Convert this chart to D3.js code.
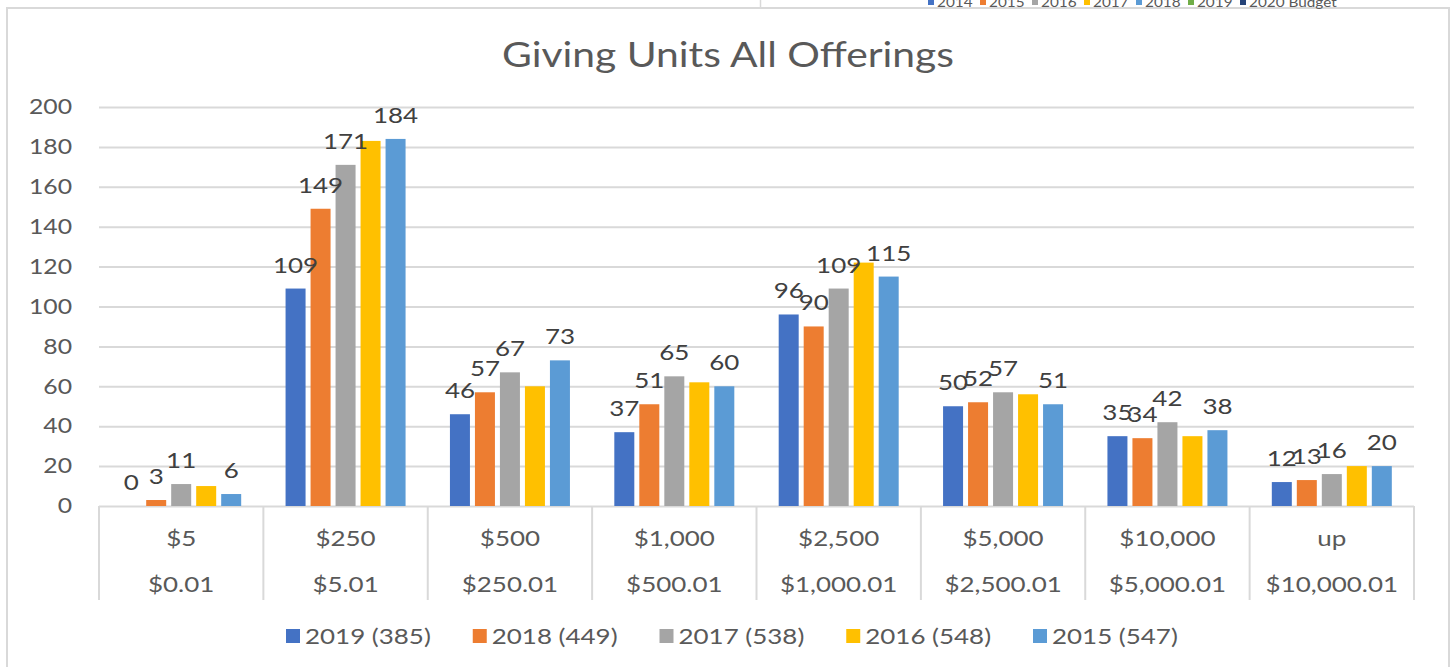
<!DOCTYPE html>
<html>
<head>
<meta charset="utf-8">
<script src="https://cdn.jsdelivr.net/npm/d3@7"></script>
<style>
  html, body { margin: 0; padding: 0; background: #fff; }
  svg { display: block; font-family: Lato, "Open Sans", sans-serif; }
</style>
</head>
<body>
<svg id="chart" width="1455" height="667"></svg>
<script>
// ---- data ----
const upperLabels = ["$5", "$250", "$500", "$1,000", "$2,500", "$5,000", "$10,000", "up"];
const lowerLabels = ["$0.01", "$5.01", "$250.01", "$500.01", "$1,000.01", "$2,500.01", "$5,000.01", "$10,000.01"];
const seriesNames = ["2019 (385)", "2018 (449)", "2017 (538)", "2016 (548)", "2015 (547)"];
const seriesColors = ["#4472C4", "#ED7D31", "#A5A5A5", "#FFC000", "#5B9BD5"];
const values2019 = [0, 109, 46, 37, 96, 50, 35, 12];
const values2018 = [3, 149, 57, 51, 90, 52, 34, 13];
const values2017 = [11, 171, 67, 65, 109, 57, 42, 16];
const values2016 = [10, 183, 60, 62, 122, 56, 35, 20];
const values2015 = [6, 184, 73, 60, 115, 51, 38, 20];
const seriesValues = [values2019, values2018, values2017, values2016, values2015];
const seriesShowLabels = [true, true, true, false, true];
const yTicks = [0, 20, 40, 60, 80, 100, 120, 140, 160, 180, 200];
const title = "Giving Units All Offerings";
// fragment of a neighbouring chart's legend, cut off at the top of the picture
const topLegendNames = ["2014", "2015", "2016", "2017", "2018", "2019", "2020 Budget"];
const topLegendColors = ["#4472C4", "#ED7D31", "#A5A5A5", "#FFC000", "#5B9BD5", "#70AD47", "#264478"];

// ---- layout ----
const SX = 1.18;           // horizontal stretch of the original picture's text
const textColor = "#595959";
const gridColor = "#d9d9d9";
const plot = { left: 99, right: 1414, top: 107, bottom: 506 };
const axisBottomEnd = 600;

const svg = d3.select("#chart");

function stretch(sel, sx = SX) {
  sel.each(function () {
    const a = window.getComputedStyle(this).textAnchor;
    const origin = a === "end" ? "right center" : a === "middle" ? "center center" : "left center";
    d3.select(this)
      .style("transform-box", "fill-box")
      .style("transform-origin", origin)
      .style("transform", `scaleX(${sx})`);
  });
}

// outer frame
svg.append("line").attr("x1", 760.5).attr("x2", 760.5).attr("y1", 0).attr("y2", 8)
  .attr("stroke", gridColor).attr("stroke-width", 1.5);
svg.append("path")
  .attr("d", "M7,667 L7,8 L1449,8 L1449,667")
  .attr("fill", "none").attr("stroke", gridColor).attr("stroke-width", 2);

// top legend fragment
const topX = d3.scalePoint().domain(topLegendNames).range([928, 1240]);
const tl = svg.append("g").selectAll("g").data(topLegendNames).join("g");
tl.append("rect").attr("x", d => topX(d)).attr("y", -2).attr("width", 6).attr("height", 7)
  .attr("fill", (d, i) => topLegendColors[i]);
tl.append("text").attr("x", d => topX(d) + 9).attr("y", 7)
  .attr("font-size", 13).attr("fill", textColor).text(d => d).call(stretch);

// title
svg.append("text").attr("x", 728).attr("y", 67).attr("text-anchor", "middle")
  .attr("font-size", 34).attr("fill", textColor).text(title).call(stretch, 1.2);

// scales
const x0 = d3.scaleBand().domain(d3.range(upperLabels.length)).range([plot.left, plot.right]);
const x1 = d3.scaleBand().domain(d3.range(seriesNames.length)).range([-62.5, 62.5])
  .paddingInner(0.2).paddingOuter(0.1);
const y = d3.scaleLinear().domain([0, 200]).range([plot.bottom, plot.top]);

// y axis with gridlines
const yAxis = svg.append("g").attr("transform", `translate(${plot.left},0)`)
  .call(d3.axisLeft(y).tickValues(yTicks).tickSize(-(plot.right - plot.left)).tickPadding(27));
yAxis.select(".domain").remove();
yAxis.selectAll(".tick line").attr("stroke", gridColor).attr("stroke-width", 2);
yAxis.selectAll(".tick text").attr("font-size", 21).attr("fill", textColor)
  .attr("font-family", "Lato, 'Open Sans', sans-serif").call(stretch);

// category separators
const bounds = x0.domain().map(i => x0(i)).concat([plot.right]);
svg.append("g").selectAll("line").data(bounds).join("line")
  .attr("x1", d => d).attr("x2", d => d)
  .attr("y1", plot.bottom).attr("y2", axisBottomEnd)
  .attr("stroke", gridColor).attr("stroke-width", 2);

// two-level category axis
function catAxis(labels, pad) {
  const g = svg.append("g").attr("transform", `translate(0,${plot.bottom})`)
    .call(d3.axisBottom(x0).tickSize(0).tickPadding(pad).tickFormat(i => labels[i]));
  g.select(".domain").remove();
  g.selectAll(".tick text").attr("font-size", 22).attr("fill", textColor)
    .attr("font-family", "Lato, 'Open Sans', sans-serif").call(stretch);
}
catAxis(upperLabels, 24);
catAxis(lowerLabels, 70);

// bars
const groups = svg.append("g").selectAll("g").data(seriesNames).join("g")
  .attr("fill", (d, s) => seriesColors[s]);
groups.selectAll("rect").data((d, s) => seriesValues[s].map((v, i) => ({ v, i, s })))
  .join("rect")
  .attr("x", d => x0(d.i) + x0.bandwidth() / 2 + x1(d.s))
  .attr("width", x1.bandwidth())
  .attr("y", d => y(d.v))
  .attr("height", d => y(0) - y(d.v));

// data labels
const lbl = svg.append("g");
seriesNames.forEach((name, s) => {
  if (!seriesShowLabels[s]) return;
  lbl.append("g").selectAll("text").data(seriesValues[s].map((v, i) => ({ v, i })))
    .join("text")
    .attr("x", d => x0(d.i) + x0.bandwidth() / 2 + x1(s) + x1.bandwidth() / 2)
    .attr("y", d => y(d.v) - 16)
    .attr("text-anchor", "middle")
    .attr("font-size", 22).attr("fill", "#404040")
    .text(d => d.v).call(stretch);
});

// legend
const legX = d3.scalePoint().domain(seriesNames).range([286, 1033]);
const leg = svg.append("g").selectAll("g").data(seriesNames).join("g");
leg.append("rect").attr("x", d => legX(d)).attr("y", 629).attr("width", 14).attr("height", 14)
  .attr("fill", (d, i) => seriesColors[i]);
leg.append("text").attr("x", d => legX(d) + 19).attr("y", 644)
  .attr("font-size", 22).attr("fill", textColor).text(d => d).call(stretch);
</script>
</body>
</html>
